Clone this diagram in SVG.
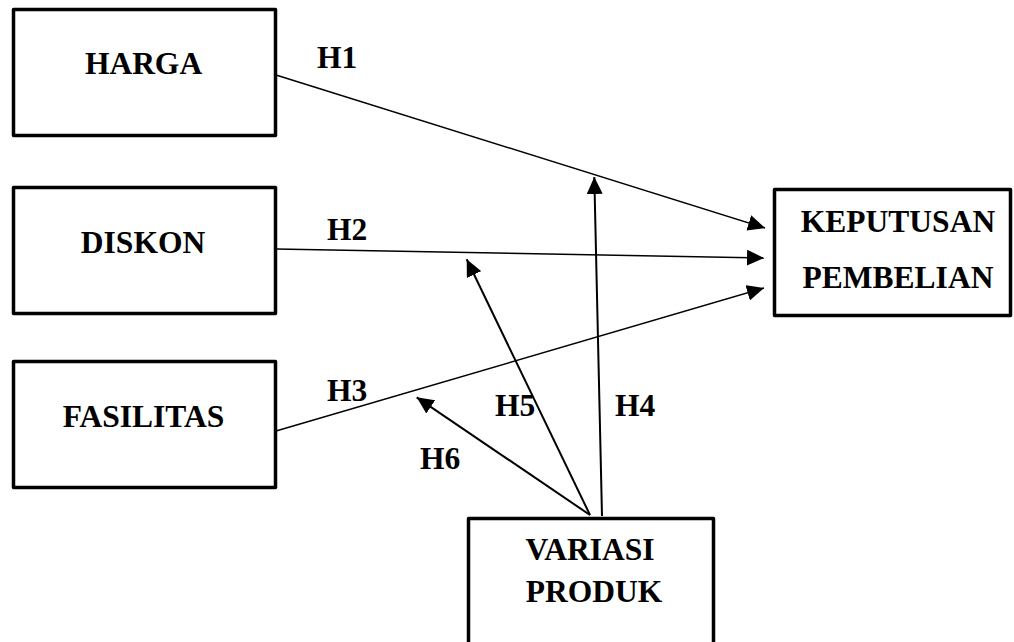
<svg xmlns="http://www.w3.org/2000/svg" width="1014" height="642" viewBox="0 0 1014 642">
<style>
.box{fill:#fff;stroke:#000;stroke-width:3.5;stroke-linejoin:round}
.t{font-family:"Liberation Serif","Times New Roman",serif;font-weight:bold;font-size:31.5px;fill:#000;text-anchor:middle}
.lbl{font-family:"Liberation Serif","Times New Roman",serif;font-weight:bold;font-size:31.5px;fill:#000}
.c1{stroke:#000;stroke-width:1.5;fill:none;marker-end:url(#ah)}
.c2{stroke:#000;stroke-width:2;fill:none;marker-end:url(#ah)}
</style>
<defs>
<marker id="ah" markerUnits="userSpaceOnUse" markerWidth="18" markerHeight="16" refX="17" refY="8" orient="auto">
<path d="M0,0 L17,8 L0,16 Z" fill="#000"/>
</marker>
</defs>
<rect width="1014" height="642" fill="#fff"/>
<g id="connectors">
<line class="c1" x1="276" y1="75" x2="765" y2="228"/>
<line class="c1" x1="276" y1="249" x2="764" y2="258"/>
<line class="c1" x1="276" y1="431" x2="764" y2="288"/>
<line class="c2" x1="602" y1="516" x2="594.3" y2="177"/>
<line class="c2" x1="590" y1="515" x2="466.7" y2="259.3"/>
<line class="c2" x1="590" y1="515" x2="416.7" y2="397.3"/>
</g>
<g id="labels">
<text class="lbl" x="317" y="68">H1</text>
<text class="lbl" x="327" y="240">H2</text>
<text class="lbl" x="327" y="401">H3</text>
<text class="lbl" x="615" y="416">H4</text>
<text class="lbl" x="495" y="416">H5</text>
<text class="lbl" x="420" y="469">H6</text>
</g>
<g id="harga">
<rect class="box" x="13.5" y="9.5" width="262" height="126"/>
<text class="t" x="143.5" y="74">HARGA</text>
</g>
<g id="diskon">
<rect class="box" x="13.5" y="187.5" width="262" height="126"/>
<text class="t" x="143" y="252.5">DISKON</text>
</g>
<g id="fasilitas">
<rect class="box" x="13.5" y="361.5" width="262" height="126"/>
<text class="t" x="143.5" y="427">FASILITAS</text>
</g>
<g id="keputusan">
<rect class="box" x="774.5" y="189.5" width="236" height="126"/>
<text class="t" x="898" y="232">KEPUTUSAN</text>
<text class="t" x="898" y="288">PEMBELIAN</text>
</g>
<g id="variasi">
<rect class="box" x="468.5" y="518.5" width="245" height="140"/>
<text class="t" x="590" y="560">VARIASI</text>
<text class="t" x="594" y="601.5">PRODUK</text>
</g>
</svg>
